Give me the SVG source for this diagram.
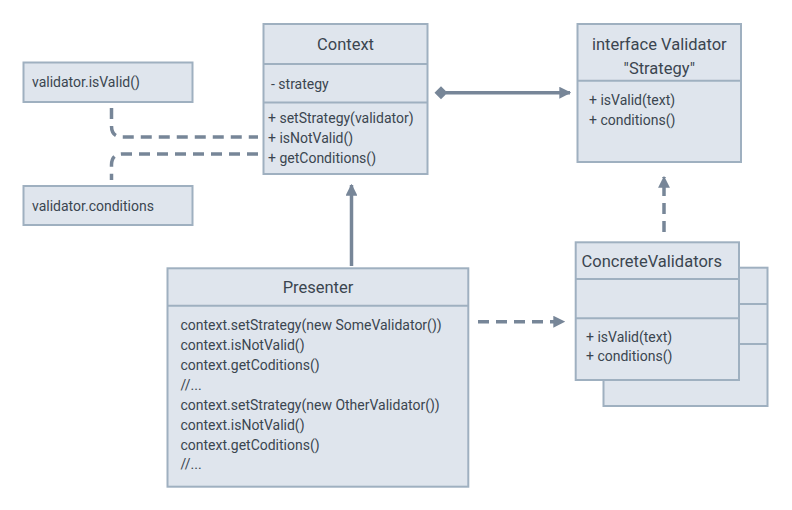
<svg xmlns="http://www.w3.org/2000/svg" width="792" height="510" viewBox="0 0 792 510">
<defs>
<style>
.box{fill:#dfe5ed;stroke:#9fb0c0;stroke-width:2}
.div{stroke:#9fb0c0;stroke-width:2}
.t{font-family:Roboto,"Noto Sans",sans-serif;fill:#3b4550}
.title{font-size:16.5px}
.m{font-size:14px}
.c{stroke:#778698;stroke-width:3.5;fill:none}
.dash{stroke-dasharray:11 7}
</style>
<marker id="ah" viewBox="0 0 10 10" refX="9" refY="5" markerWidth="3.4" markerHeight="3.4" orient="auto" markerUnits="strokeWidth">
<path d="M0,0 L10,5 L0,10 z" fill="#778698"/>
</marker>
</defs>
<rect width="792" height="510" fill="#ffffff"/>
<g id="connectors">
<path class="c dash" d="M111.5,108 V126 Q111.5,137 122.5,137 H258"/>
<path class="c dash" d="M258,154 H122.5 Q111.5,154 111.5,165 V180"/>
<line class="c" x1="351.5" y1="266" x2="351.5" y2="185" marker-end="url(#ah)"/>
<line class="c" x1="446" y1="92.7" x2="570" y2="92.7" marker-end="url(#ah)"/>
<path d="M434.5,92.7 L441,86.2 L447.5,92.7 L441,99.2 z" fill="#778698"/>
<line class="c dash" x1="664" y1="232" x2="664" y2="177" marker-end="url(#ah)"/>
<line class="c dash" x1="478" y1="321.7" x2="564" y2="321.7" marker-end="url(#ah)"/>
</g>
<g id="isValidNote">
<rect class="box" x="23.5" y="62.5" width="169" height="39.5"/>
<text class="t m" x="32" y="87">validator.isValid()</text>
</g>
<g id="conditionsNote">
<rect class="box" x="23.5" y="186" width="169" height="39"/>
<text class="t m" x="32" y="210.5">validator.conditions</text>
</g>
<g id="Context">
<rect class="box" x="263.5" y="24" width="164" height="150"/>
<line class="div" x1="263.5" y1="64" x2="427.5" y2="64"/>
<line class="div" x1="263.5" y1="102.5" x2="427.5" y2="102.5"/>
<text class="t title" x="345.5" y="49.5" text-anchor="middle">Context</text>
<text class="t m" x="271" y="88.5">- strategy</text>
<text class="t m" x="268" y="123">+ setStrategy(validator)</text>
<text class="t m" x="268" y="143">+ isNotValid()</text>
<text class="t m" x="268" y="163">+ getConditions()</text>
</g>
<g id="Validator">
<rect class="box" x="577.5" y="24" width="163.5" height="138"/>
<line class="div" x1="577.5" y1="80.7" x2="741" y2="80.7"/>
<text class="t title" x="659.3" y="49.5" text-anchor="middle">interface Validator</text>
<text class="t title" x="659.3" y="73.5" text-anchor="middle">"Strategy"</text>
<text class="t m" x="589" y="105">+ isValid(text)</text>
<text class="t m" x="589" y="125">+ conditions()</text>
</g>
<g id="ConcreteValidators">
<rect class="box" x="603.5" y="267.7" width="164" height="138.3"/>
<line class="div" x1="739" y1="304" x2="767.5" y2="304"/>
<line class="div" x1="739" y1="344" x2="767.5" y2="344"/>
<rect class="box" x="575.7" y="242.3" width="163.3" height="137.7"/>
<line class="div" x1="575.7" y1="279" x2="739" y2="279"/>
<line class="div" x1="575.7" y1="318.3" x2="739" y2="318.3"/>
<text class="t title" x="581.5" y="266.5">ConcreteValidators</text>
<text class="t m" x="586" y="341.5">+ isValid(text)</text>
<text class="t m" x="586" y="361">+ conditions()</text>
</g>
<g id="Presenter">
<rect class="box" x="167.5" y="268.3" width="300.8" height="218.4"/>
<line class="div" x1="167.5" y1="305.7" x2="468.3" y2="305.7"/>
<text class="t title" x="318" y="292.5" text-anchor="middle">Presenter</text>
<text class="t m" x="180.5" y="330">context.setStrategy(new SomeValidator())</text>
<text class="t m" x="180.5" y="350">context.isNotValid()</text>
<text class="t m" x="180.5" y="370">context.getCoditions()</text>
<text class="t m" x="180.5" y="389.5">//...</text>
<text class="t m" x="180.5" y="409.5">context.setStrategy(new OtherValidator())</text>
<text class="t m" x="180.5" y="429.5">context.isNotValid()</text>
<text class="t m" x="180.5" y="449.5">context.getCoditions()</text>
<text class="t m" x="180.5" y="468.5">//...</text>
</g>
</svg>
